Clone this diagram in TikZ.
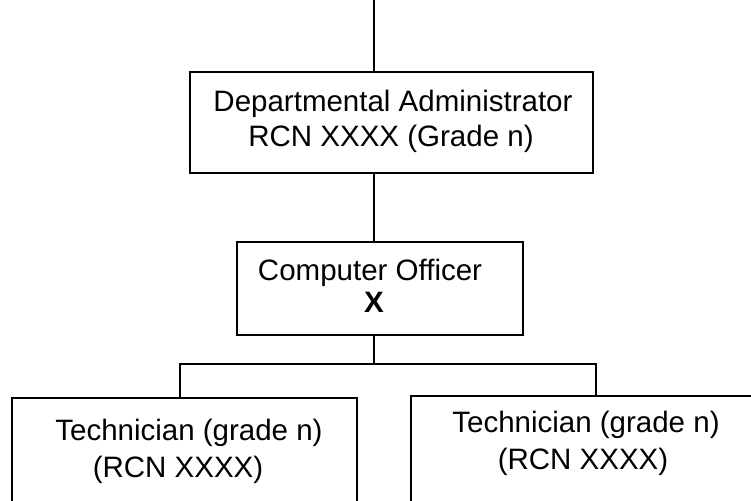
\documentclass[tikz,border=0pt]{standalone}
\usepackage{fontspec}
\setmainfont{Liberation Sans}
\begin{document}
\begin{tikzpicture}[x=1pt,y=-1pt,
  box/.style={draw, line width=1.7pt, inner sep=0pt, outer sep=0pt},
  lbl/.style={font=\fontsize{29.5}{35}\selectfont, inner sep=0pt, anchor=base},
  wire/.style={line width=1.7pt}]
\useasboundingbox (0,0) rectangle (751,500);
\clip (0,0) rectangle (751,500);

% boxes
\node[box, minimum width=403pt, minimum height=101pt] (admin) at (391.5,122.5) {};
\node[box, minimum width=286pt, minimum height=93pt] (officer) at (380,288.5) {};
\node[box, minimum width=345pt, minimum height=122pt] (techA) at (184.2,459) {};
\node[box, minimum width=360pt, minimum height=124pt] (techB) at (590.7,458) {};

% labels
\node[lbl] (adminA) at (393,111.5) {Departmental Administrator};
\node[lbl] (adminB) at (391,146.5) {RCN XXXX (Grade n)};
\node[lbl] (offA) at (370,280) {Computer Officer};
\node[lbl, font=\fontsize{29.5}{35}\selectfont\bfseries] (offB) at (374,312) {X};
\node[lbl] (techAa) at (189,440) {Technician (grade n)};
\node[lbl] (techAb) at (178,477) {(RCN XXXX)};
\node[lbl] (techBa) at (586,432) {Technician (grade n)};
\node[lbl] (techBb) at (583,469) {(RCN XXXX)};

% connectors
\coordinate (top) at (374,0);
\coordinate (bus) at (374,364);
\coordinate (busL) at (180,364);
\coordinate (busR) at (596,364);
\draw[wire] (top) -- (top |- admin.north);
\draw[wire] (admin.south -| top) -- (officer.north -| top);
\draw[wire] (officer.south -| bus) -- (bus);
\draw[wire] (busL |- techA.north) -- (busL) -- (busR) -- (busR |- techB.north);
\end{tikzpicture}
\end{document}
